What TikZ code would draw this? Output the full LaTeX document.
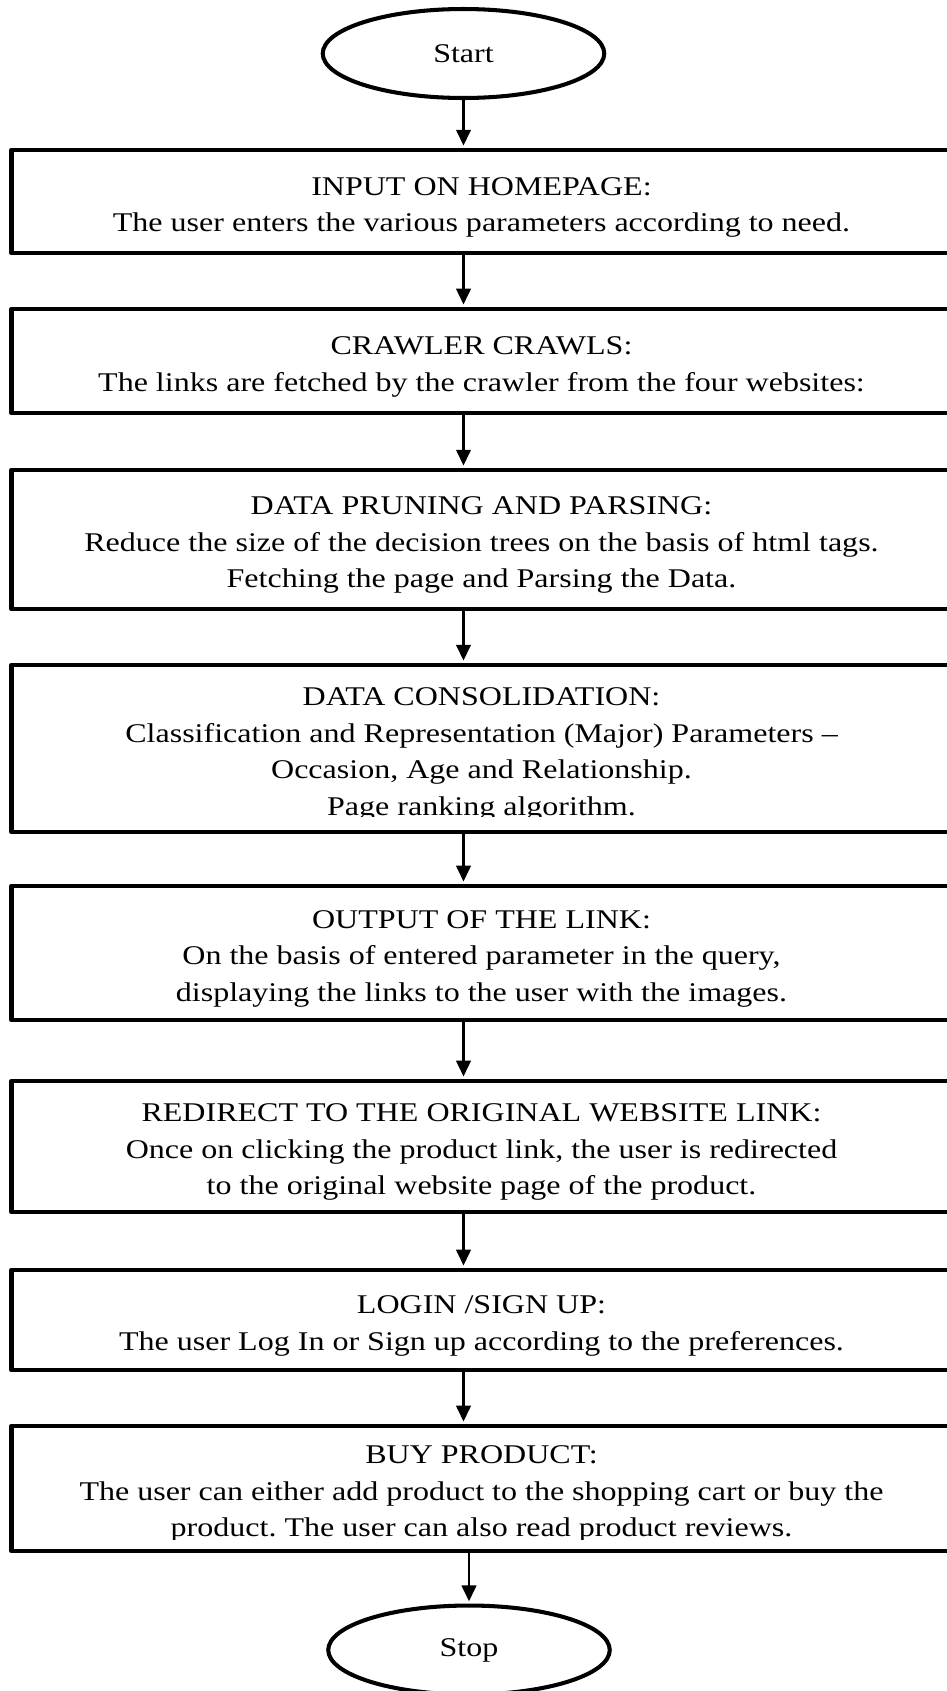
\documentclass[tikz,border=0pt]{standalone}
\usepackage{fontspec}
\setmainfont{Liberation Serif}[FakeStretch=1.185]
\usetikzlibrary{shapes.geometric,arrows.meta}
\frenchspacing

\begin{document}
\begin{tikzpicture}[x=0.444pt,y=-0.444pt,
    term/.style={draw, ellipse, line width=1.8pt, inner sep=0pt,
        minimum width=125pt, minimum height=39.5pt},
    stepbox/.style={draw, line width=2pt, line join=round, inner sep=0pt,
        minimum width=417.4pt, text width=400pt, align=flush center,
        execute at begin node={\rule{0pt}{14pt}},
        execute at end node={\rule[-3.5pt]{0pt}{0pt}}},
    flow/.style={-{Triangle[length=7pt,width=6.5pt]}, line width=0.9pt, shorten >=1pt}]
        %--- Arguments ----
        \def \bx {481.5} % centre of the text boxes
        \def \txtfont {\fontsize{12}{16.2}\selectfont} % text of the boxes
        \useasboundingbox (0,0) rectangle (946,1691);
        %--- Terminals ---
        \node [term, font=\txtfont] (start) at (463.5,53.5) {Start};
        \node [term, font=\txtfont] (stop) at (469,1650) {Stop};
        %--- Steps ---
        \node [stepbox, font=\txtfont, minimum height=45.7pt] (input) at (\bx,201.5)
            {INPUT ON HOMEPAGE:\\The user enters the various parameters according to need.};
        \node [stepbox, font=\txtfont, minimum height=46.2pt] (crawl) at (\bx,361)
            {CRAWLER CRAWLS:\\The links are fetched by the crawler from the four websites:};
        \node [stepbox, font=\txtfont, minimum height=61.7pt] (prune) at (\bx,539.5)
            {DATA PRUNING AND PARSING:\\Reduce the size of the decision trees on the basis of html tags.\\Fetching the page and Parsing the Data.};
        \node [stepbox, font=\txtfont, minimum height=74.1pt] (cons) at (\bx,748.5)
            {DATA CONSOLIDATION:\\Classification and Representation (Major) Parameters --\\Occasion, Age and Relationship.\\Page ranking algorithm.};
        \node [stepbox, font=\txtfont, minimum height=59.5pt] (output) at (\bx,953)
            {OUTPUT OF THE LINK:\\On the basis of entered parameter in the query,\\displaying the links to the user with the images.};
        \node [stepbox, font=\txtfont, minimum height=58.2pt] (redirect) at (\bx,1146.5)
            {REDIRECT TO THE ORIGINAL WEBSITE LINK:\\Once on clicking the product link, the user is redirected\\to the original website page of the product.};
        \node [stepbox, font=\txtfont, minimum height=44.4pt] (login) at (\bx,1320)
            {LOGIN /SIGN UP:\\The user Log In or Sign up according to the preferences.};
        \node [stepbox, font=\txtfont, minimum height=55.5pt] (buy) at (\bx,1488.5)
            {BUY PRODUCT:\\The user can either add product to the shopping cart or buy the\\product. The user can also read product reviews.};
        %--- Text cut at the box bottoms ---
        \fill [white] ([xshift=3pt,yshift=2pt]cons.south west) rectangle ([xshift=-3pt,yshift=7.6pt]cons.south east);
        \fill [white] ([xshift=3pt,yshift=2pt]buy.south west) rectangle ([xshift=-3pt,yshift=6.1pt]buy.south east);
        %--- Arrows ---
        \draw [flow] (start.south) -- (input.north -| start.south);
        \draw [flow] (input.south -| start.south) -- (crawl.north -| start.south);
        \draw [flow] (crawl.south -| start.south) -- (prune.north -| start.south);
        \draw [flow] (prune.south -| start.south) -- (cons.north -| start.south);
        \draw [flow] (cons.south -| start.south) -- (output.north -| start.south);
        \draw [flow] (output.south -| start.south) -- (redirect.north -| start.south);
        \draw [flow] (redirect.south -| start.south) -- (login.north -| start.south);
        \draw [flow] (login.south -| start.south) -- (buy.north -| start.south);
        \draw [flow] (buy.south -| stop.north) -- (stop.north);
    \end{tikzpicture}
\end{document}
